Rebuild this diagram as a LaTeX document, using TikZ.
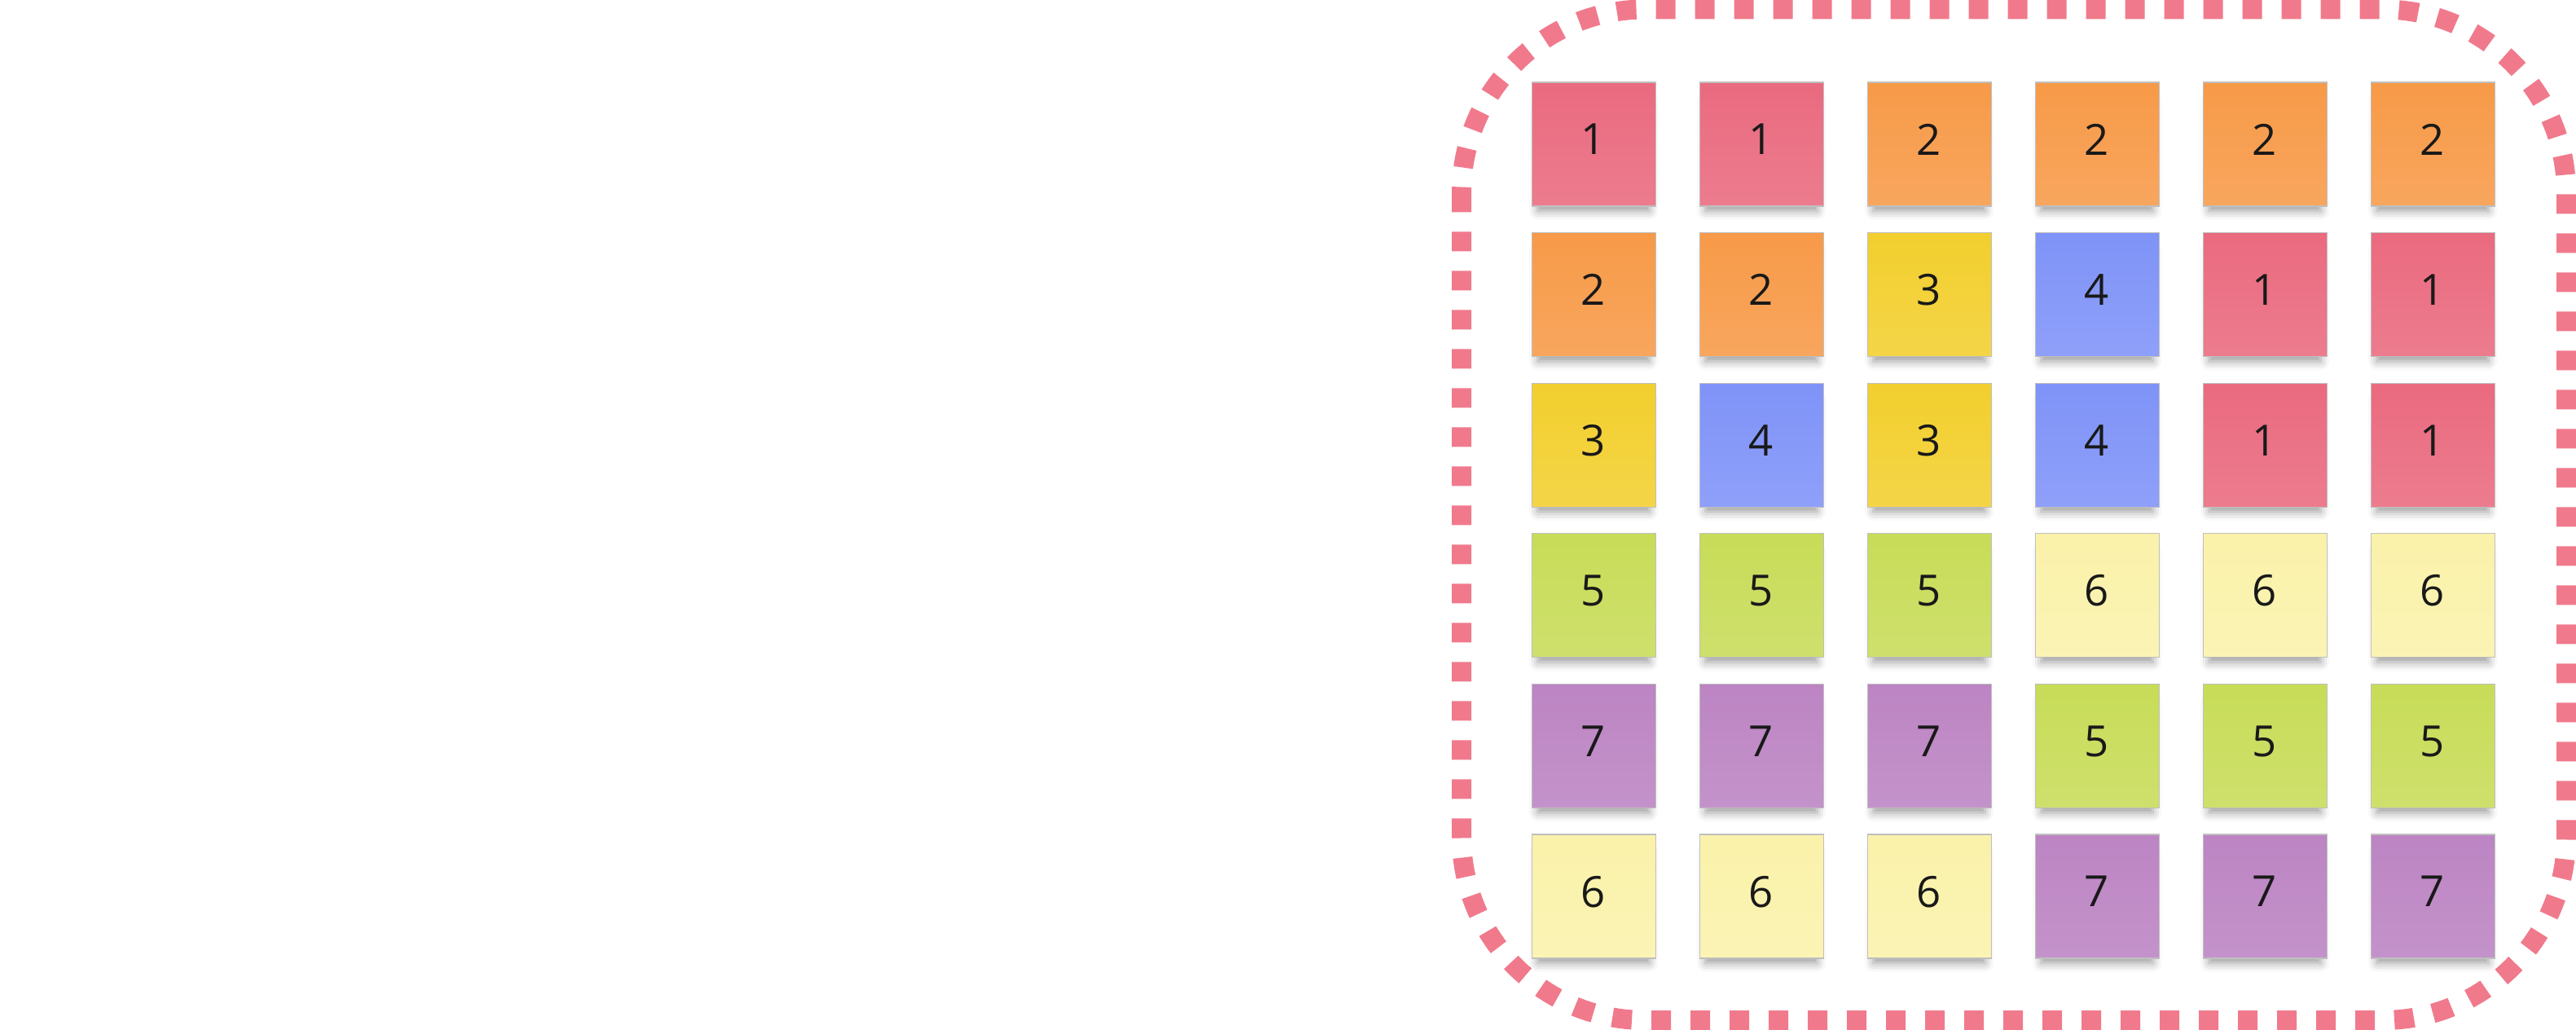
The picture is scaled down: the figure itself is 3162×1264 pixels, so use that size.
\documentclass[tikz,border=0pt]{standalone}
\usepackage{fontspec}
\setmainfont{Open Sans}
\usetikzlibrary{shadows.blur}
\definecolor{note1}{HTML}{EA6A7F}
\definecolor{note2}{HTML}{F79A48}
\definecolor{note3}{HTML}{F2CF2E}
\definecolor{note4}{HTML}{7F93F8}
\definecolor{note5}{HTML}{C8DC58}
\definecolor{note6}{HTML}{FAF2AA}
\definecolor{note7}{HTML}{BC84C3}
\definecolor{frame}{HTML}{F07A8C}
\tikzset{
	sticky/.style={rectangle, minimum size=15.2mm, inner sep=0pt, text depth=1.2mm,
		draw=black!25, line width=0.3pt, font=\fontsize{15}{16}\selectfont, text=black!90,
		top color=#1, bottom color=#1!88!white,
		blur shadow={shadow xshift=0mm, shadow yshift=-1.5mm, shadow scale=0.9,
			shadow blur radius=1.2mm, shadow opacity=40}},
}
\begin{document}
\begin{tikzpicture}[x=0.1mm, y=-0.1mm]
				\useasboundingbox (0,0) rectangle (3162,1264);
				\def\colstep{206}
				\def\rowstep{184.6}
				\coordinate (origin) at (1956,177);
				
				% dotted frame round the board
				\draw[frame, line width=2.4mm, dash pattern=on 2.4mm off 2.4mm, rounded corners=22.5mm]
					(1794,11.5) rectangle (3150,1252);
				
				% sticky notes, one row per line
				\foreach \row [count=\r from 0] in {{1,1,2,2,2,2},{2,2,3,4,1,1},{3,4,3,4,1,1},
						{5,5,5,6,6,6},{7,7,7,5,5,5},{6,6,6,7,7,7}}{
					\foreach \n [count=\c from 0] in \row{
						\node[sticky=note\n, xshift=\c*\colstep*0.1mm, yshift=-\r*\rowstep*0.1mm]
							(n-\r-\c) at (origin) {\n};
					}
				}
		\end{tikzpicture}
\end{document}
